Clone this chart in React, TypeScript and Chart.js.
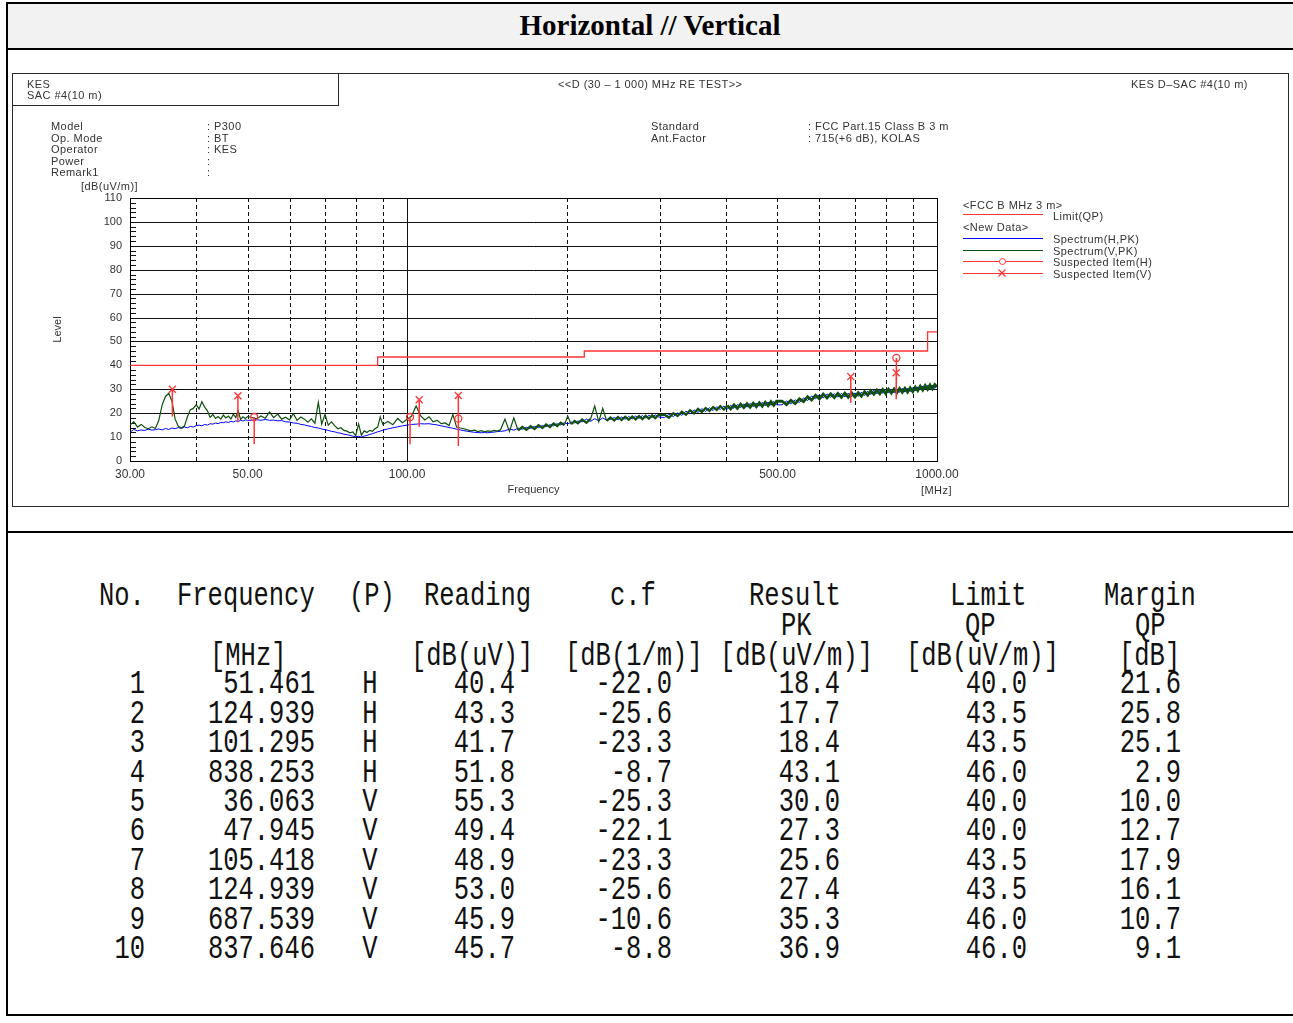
import React, { useEffect, useRef } from 'react';
import { Chart, registerables } from 'chart.js';

Chart.register(...registerables);

// ---------------- data ----------------
const freqMHz = [
  30, 30.5, 31, 31.5, 32, 32.5, 33, 33.5, 34, 34.5, 35, 35.5, 36, 36.5, 37, 37.5, 38, 38.5, 39, 39.5,
  40, 40.5, 41, 41.5, 42, 42.5, 43, 43.5, 44, 44.5, 45, 45.5, 46, 46.5, 47, 47.5, 48, 48.5, 49, 49.5, 50,
  51, 52, 53, 54, 55, 56, 57, 58, 59, 60, 61, 62, 63, 64, 65, 66, 67, 68, 69, 70,
  71, 72, 73, 74, 75, 76, 77, 78, 79, 80, 81, 82, 83, 84, 85, 86, 87, 88, 89, 90,
  92, 94, 96, 98, 100, 102, 104, 106, 108, 110, 112, 114, 116, 118, 120, 122, 124, 126, 128, 130,
  132, 134, 136, 138, 140, 142, 144, 146, 148, 150,
  153, 156, 159, 162, 165, 168, 171, 174, 177, 180, 183, 186, 189, 192, 195, 198, 201, 204, 207, 210,
  214, 218, 222, 226, 230, 234, 238, 242, 246, 250, 254, 258, 262, 266, 270, 274, 278, 282, 286, 290, 294, 298,
  306, 312, 318, 324, 330, 336, 342, 348, 354, 360, 366, 372, 378, 384, 390, 396, 402, 408, 414, 420,
  426, 432, 438, 444, 450, 456, 462, 468, 474, 480, 486, 492, 498,
  510, 520, 530, 540, 550, 560, 570, 580, 590, 600, 610, 620, 630, 640, 650, 660, 670, 680, 690, 700,
  710, 720, 730, 740, 750, 760, 770, 780, 790, 800, 810, 820, 830, 840, 850, 860, 870, 880, 890, 900,
  910, 920, 930, 940, 950, 960, 970, 980, 990, 1000,
];

const spectrumH = [
  12.0, 13.2, 12.6, 13.0, 12.8, 13.3, 12.9, 13.1, 13.4, 13.0, 13.6, 13.2, 13.8, 13.5, 14.0, 13.6, 14.2, 13.9, 14.5, 14.2,
  14.8, 15.0, 14.7, 15.3, 15.0, 15.6, 15.4, 15.9, 15.6, 16.1, 16.0, 16.4, 16.1, 16.6, 16.3, 16.8, 16.5, 17.0, 16.7, 17.2, 17.0,
  17.1, 17.3, 17.0, 17.4, 17.0, 17.1, 16.8, 16.9, 16.4, 16.3, 15.9, 15.8, 15.3, 15.1, 14.7, 14.4, 14.0, 13.8, 13.4, 13.1,
  12.8, 12.4, 12.2, 11.8, 11.6, 11.2, 11.0, 10.7, 10.4, 10.1, 10.3, 10.0, 10.4, 10.7, 11.1, 11.4, 11.8, 12.2, 12.5, 12.9,
  13.4, 13.9, 14.3, 14.7, 15.0, 15.3, 15.4, 15.6, 15.5, 15.6, 15.3, 15.1, 14.7, 14.4, 14.0, 13.7, 13.3, 13.0, 12.7, 12.4,
  12.2, 12.0, 11.9, 11.8, 11.9, 11.8, 12.0, 12.1, 12.3, 12.4,
  12.6, 13.4, 12.9, 13.7, 13.3, 14.1, 13.6, 14.5, 14.0, 14.8, 14.3, 15.2, 14.7, 15.6, 15.1, 16.0, 15.5, 16.3, 15.9, 16.7,
  16.4, 17.5, 16.6, 17.7, 16.8, 18.0, 17.1, 17.4, 18.2, 17.3, 18.4, 17.5, 18.6, 17.6, 18.8, 17.8, 19.0, 18.0, 19.1, 18.2, 19.3, 18.4,
  18.2, 19.5, 18.6, 20.1, 19.1, 20.8, 19.7, 21.4, 20.3, 21.9, 20.7, 22.3, 21.1, 22.7, 21.5, 23.0, 21.7, 23.3, 22.0, 23.6,
  22.3, 23.9, 22.5, 24.1, 22.7, 24.3, 22.9, 24.5, 23.1, 24.7, 23.3, 24.9, 23.5,
  23.5, 25.1, 23.9, 25.6, 24.5, 26.4, 25.3, 27.2, 26.0, 27.8, 26.4, 28.1, 26.6, 28.2, 26.7, 28.3, 26.8, 28.4, 26.9, 28.5,
  27.0, 28.8, 27.4, 29.2, 27.8, 29.6, 28.1, 29.8, 28.3, 29.9, 28.4, 30.1, 28.5, 30.2, 28.7, 30.4, 28.8, 30.5, 29.0, 30.7,
  29.3, 31.0, 29.7, 31.4, 30.0, 31.6, 30.2, 31.8, 30.4, 31.5,
];

const spectrumV = [
  15.0, 16.5, 14.2, 15.3, 14.0, 13.5, 14.3, 13.6, 17.0, 23.5, 27.0, 28.3, 25.0, 17.5, 14.5, 13.8, 14.6, 18.5, 21.5, 22.0,
  23.5, 21.8, 24.8, 22.5, 21.0, 18.2, 19.5, 17.8, 18.6, 17.5, 19.2, 18.0, 18.8, 17.6, 19.6, 18.2, 21.0, 17.4, 18.5, 17.8, 18.6,
  18.2, 17.6, 18.8, 17.9, 20.5, 18.1, 19.6, 17.5, 18.3, 17.2, 19.8, 17.0, 18.4, 17.5, 16.2, 17.6, 15.8, 24.5, 15.4, 19.5,
  15.0, 16.4, 14.8, 13.5, 13.9, 12.8, 12.5, 11.8, 12.2, 10.6, 15.5, 10.8, 12.6, 11.9, 12.8, 12.4, 13.5, 14.2, 18.5, 15.3,
  16.5, 15.2, 17.8, 16.0, 17.5, 18.8, 23.0, 19.0, 17.2, 18.5, 16.4, 17.0, 15.6, 15.9, 14.8, 19.5, 14.2, 13.8, 13.5, 13.0,
  12.6, 12.9, 12.3, 12.7, 12.2, 12.6, 12.4, 12.8, 12.5, 13.0,
  17.5, 12.4, 18.0, 12.8, 14.3, 13.0, 14.6, 13.4, 15.0, 13.8, 15.3, 14.2, 15.7, 14.6, 16.0, 15.0, 18.8, 15.4, 16.8, 15.8,
  17.4, 16.0, 17.6, 23.0, 16.4, 22.0, 16.8, 18.2, 16.9, 18.4, 17.1, 18.5, 17.2, 18.6, 17.4, 18.8, 17.5, 18.9, 17.7, 19.1, 17.9, 19.2,
  19.4, 18.1, 20.0, 18.8, 20.6, 19.3, 21.2, 19.9, 21.8, 20.5, 22.2, 20.9, 22.6, 21.3, 23.0, 21.5, 23.2, 21.8, 23.5, 22.0,
  23.8, 22.3, 24.0, 22.5, 24.2, 22.7, 24.4, 22.9, 24.6, 23.1, 24.8, 23.3, 25.0,
  25.0, 23.6, 25.4, 24.0, 26.0, 24.8, 26.9, 25.5, 27.5, 26.0, 28.0, 26.4, 28.1, 26.5, 28.3, 26.6, 28.4, 26.7, 28.5, 26.8,
  28.6, 27.1, 29.0, 27.5, 29.4, 27.9, 29.7, 28.1, 29.9, 28.2, 30.0, 28.4, 30.1, 28.5, 30.3, 28.7, 30.4, 28.8, 30.6, 29.0,
  30.9, 29.4, 31.3, 29.7, 31.6, 30.0, 31.8, 30.2, 32.0, 31.0,
];

const limitFreq = [30, 88, 88, 216, 216, 960, 960, 1000];
const limitLevel = [40, 40, 43.5, 43.5, 46, 46, 54, 54];

const yTickLevels = [0, 10, 20, 30, 40, 50, 60, 70, 80, 90, 100, 110];
const xGridFreqs = [40, 50, 60, 70, 80, 90, 100, 200, 300, 400, 500, 600, 700, 800, 900];
const xLabelFreqs = [30, 50, 100, 500, 1000];

// result table
const tableNo = [1, 2, 3, 4, 5, 6, 7, 8, 9, 10];
const tableFreq = [51.461, 124.939, 101.295, 838.253, 36.063, 47.945, 105.418, 124.939, 687.539, 837.646];
const tablePol = ['H', 'H', 'H', 'H', 'V', 'V', 'V', 'V', 'V', 'V'];
const tableReading = [40.4, 43.3, 41.7, 51.8, 55.3, 49.4, 48.9, 53.0, 45.9, 45.7];
const tableCf = [-22.0, -25.6, -23.3, -8.7, -25.3, -22.1, -23.3, -25.6, -10.6, -8.8];
const tableResult = [18.4, 17.7, 18.4, 43.1, 30.0, 27.3, 25.6, 27.4, 35.3, 36.9];
const tableLimit = [40.0, 43.5, 43.5, 46.0, 40.0, 40.0, 43.5, 43.5, 46.0, 46.0];
const tableMargin = [21.6, 25.8, 25.1, 2.9, 10.0, 12.7, 17.9, 16.1, 10.7, 9.1];
// lower end of each suspected-item marker stem (dB)
const stemBottom = [7.0, 6.3, 7.0, 32.0, 18.6, 16.2, 14.3, 16.3, 24.4, 25.8];

// ---------------- styling ----------------
const RED = '#ff3636';
const BLUE = '#0000ff';
const GREEN = '#0f4f0f';
const TXT = '#333';
const SANS = '"Liberation Sans", Arial, sans-serif';
const MONO = '"Liberation Mono", "DejaVu Sans Mono", monospace';
const SERIF = '"Liberation Serif", "Times New Roman", serif';

const gridPlugin = {
  id: 'emcGrid',
  beforeDatasetsDraw(chart: any) {
    const { ctx, chartArea: a, scales } = chart;
    const xs = scales.x;
    const ys = scales.y;
    ctx.save();
    ctx.strokeStyle = '#111';
    ctx.lineWidth = 1;
    for (const v of yTickLevels) {
      const py = Math.round(ys.getPixelForValue(v)) + 0.5;
      ctx.beginPath();
      ctx.moveTo(a.left, py);
      ctx.lineTo(a.right, py);
      ctx.stroke();
    }
    for (let v = 0; v <= 110; v += 2) {
      const py = Math.round(ys.getPixelForValue(v)) + 0.5;
      ctx.beginPath();
      ctx.moveTo(a.left, py);
      ctx.lineTo(a.left + 6, py);
      ctx.stroke();
    }
    for (const f of xGridFreqs) {
      const px = Math.round(xs.getPixelForValue(f)) + 0.5;
      ctx.setLineDash(f === 100 ? [] : [4, 3]);
      ctx.beginPath();
      ctx.moveTo(px, a.top);
      ctx.lineTo(px, a.bottom);
      ctx.stroke();
    }
    ctx.setLineDash([]);
    ctx.strokeStyle = '#000';
    ctx.strokeRect(Math.round(a.left) + 0.5, Math.round(a.top) + 0.5, Math.round(a.right - a.left), Math.round(a.bottom - a.top));
    ctx.restore();
  },
};

function EmcChart() {
  const ref = useRef<HTMLCanvasElement>(null);
  useEffect(() => {
    const canvas = ref.current;
    if (!canvas) return;
    const hData = freqMHz.map((f, i) => ({ x: f, y: spectrumH[i] }));
    const vData = freqMHz.map((f, i) => ({ x: f, y: spectrumV[i] }));
    const limData = limitFreq.map((f, i) => ({ x: f, y: limitLevel[i] }));
    const suspH: any[] = [];
    const suspV: any[] = [];
    const stems: any[] = [];
    tableFreq.forEach((f, i) => {
      const pt = { x: f, y: tableResult[i] };
      if (tablePol[i] === 'H') suspH.push(pt);
      else suspV.push(pt);
      stems.push({ x: f, y: tableResult[i] }, { x: f, y: stemBottom[i] }, { x: f, y: null });
    });
    const bandWidth = (c: any) => {
      const jump = Math.abs(c.p1.parsed.y - c.p0.parsed.y);
      if (c.p0.parsed.x < 150 || jump > 3) return 1.2;
      return c.p0.parsed.x < 400 ? 2.2 : 2.8;
    };
    const chart = new Chart(canvas, {
      type: 'line',
      data: {
        datasets: [
          {
            label: 'Suspected Item(H)', data: suspH, showLine: false, pointStyle: 'circle', pointRadius: 3.5,
            pointBorderColor: RED, pointBackgroundColor: 'rgba(0,0,0,0)', pointBorderWidth: 1.3, borderColor: RED, order: 0,
          },
          {
            label: 'Suspected Item(V)', data: suspV, showLine: false, pointStyle: 'crossRot', pointRadius: 5,
            pointBorderColor: RED, pointBackgroundColor: RED, pointBorderWidth: 1.3, borderColor: RED, order: 0,
          },
          { label: 'stems', data: stems, borderColor: RED, borderWidth: 1.5, pointRadius: 0, spanGaps: false, order: 1 },
          { label: 'Limit(QP)', data: limData, borderColor: RED, borderWidth: 1.3, pointRadius: 0, order: 2 },
          {
            label: 'Spectrum(V,PK)', data: vData, borderColor: GREEN, borderWidth: 1.2, pointRadius: 0, order: 3,
            segment: { borderWidth: bandWidth },
          },
          { label: 'Spectrum(H,PK)', data: hData, borderColor: BLUE, borderWidth: 1, pointRadius: 0, order: 4 },
        ] as any,
      },
      options: {
        animation: false,
        responsive: false,
        devicePixelRatio: 1,
        events: [],
        layout: { padding: { top: 124, right: 351, bottom: 0, left: 0 } },
        elements: { line: { tension: 0, fill: false } },
        plugins: { legend: { display: false }, tooltip: { enabled: false } },
        scales: {
          x: {
            type: 'logarithmic',
            min: 30,
            max: 1000,
            afterBuildTicks: (s: any) => { s.ticks = xLabelFreqs.map((v) => ({ value: v })); },
            afterFit: (s: any) => { s.height = 45; },
            grid: { display: false, drawTicks: false },
            border: { display: false },
            ticks: {
              autoSkip: false, maxRotation: 0, minRotation: 0, padding: 6.4, color: TXT,
              font: { size: 12, family: SANS },
              callback: (v: any) => Number(v).toFixed(2),
            },
            title: { display: true, text: 'Frequency', color: TXT, font: { size: 11, family: SANS }, padding: { top: 0, bottom: 9.4 } },
          },
          y: {
            type: 'linear',
            min: 0,
            max: 110,
            afterBuildTicks: (s: any) => { s.ticks = yTickLevels.map((v) => ({ value: v })); },
            afterFit: (s: any) => { s.width = 117; },
            grid: { display: false, drawTicks: false },
            border: { display: false },
            ticks: { padding: 8, color: TXT, font: { size: 11, family: SANS } },
            title: { display: true, text: 'Level', color: TXT, font: { size: 11, family: SANS }, padding: { top: 38.4, bottom: 0 } },
          },
        },
      } as any,
      plugins: [gridPlugin],
    });
    return () => chart.destroy();
  }, []);
  return (
    <canvas
      ref={ref}
      width={1275}
      height={432}
      style={{ position: 'absolute', left: 13, top: 74, width: 1275, height: 432 }}
    />
  );
}

function S({ x, cy, children }: { x: number; cy: number; children: React.ReactNode }) {
  return (
    <div
      style={{
        position: 'absolute', left: x, top: cy - 6, height: 12, lineHeight: '12px', fontSize: 11,
        fontFamily: SANS, color: TXT, whiteSpace: 'pre', letterSpacing: '0.45px',
      }}
    >
      {children}
    </div>
  );
}

function M({ x, cy, text, align }: { x: number; cy: number; text: string; align: 'left' | 'right' | 'center' }) {
  const boxW = 400;
  const left = align === 'left' ? x : align === 'right' ? x - boxW : x - boxW / 2;
  return (
    <div
      style={{
        position: 'absolute', left, top: cy - 18, width: boxW, height: 40, lineHeight: '40px',
        fontSize: 34, fontFamily: MONO, color: '#111', textAlign: align, whiteSpace: 'pre',
        transform: 'scaleX(0.75)', transformOrigin: align === 'left' ? 'left center' : align === 'right' ? 'right center' : 'center center',
      }}
    >
      {text}
    </div>
  );
}

function LegendLine({ y, color }: { y: number; color: string }) {
  return <div style={{ position: 'absolute', left: 963, top: y, width: 80, height: 1, background: color }} />;
}

export default function App() {
  const rowY = [682, 711.5, 741, 770.5, 800, 829, 858.5, 888, 917.5, 947];
  return (
    <div style={{ position: 'absolute', left: 0, top: 0, width: 1293, height: 1023, overflow: 'hidden', background: '#fff' }}>
      {/* outer frame */}
      <div style={{ position: 'absolute', left: 6, top: 2, width: 1292, height: 1014, border: '2px solid #000', boxSizing: 'border-box' }} />
      <div style={{ position: 'absolute', left: 8, top: 4, width: 1290, height: 43.5, background: '#f2f2f2' }} />
      <div style={{ position: 'absolute', left: 8, top: 47.5, width: 1290, height: 2, background: '#000' }} />
      <div style={{ position: 'absolute', left: 8, top: 531, width: 1290, height: 2, background: '#000' }} />
      <div
        style={{
          position: 'absolute', left: 8, top: 4, width: 1284, height: 43.5, lineHeight: '43.5px', textAlign: 'center',
          fontFamily: SERIF, fontWeight: 'bold', fontSize: 29, color: '#000',
        }}
      >
        Horizontal // Vertical
      </div>

      {/* chart image box */}
      <div style={{ position: 'absolute', left: 12, top: 73, width: 1277, height: 434, border: '1px solid #2a2a2a', boxSizing: 'border-box' }} />
      <div style={{ position: 'absolute', left: 12, top: 73, width: 327, height: 33, border: '1px solid #2a2a2a', boxSizing: 'border-box' }} />
      <EmcChart />

      <S x={27} cy={84}>KES</S>
      <S x={27} cy={95}>SAC #4(10 m)</S>
      <S x={558} cy={84}>{'<<D (30 – 1 000) MHz RE TEST>>'}</S>
      <S x={1131} cy={84}>KES D–SAC #4(10 m)</S>

      <S x={51} cy={126}>Model</S>
      <S x={51} cy={137.5}>Op. Mode</S>
      <S x={51} cy={149}>Operator</S>
      <S x={51} cy={160.5}>Power</S>
      <S x={51} cy={172}>Remark1</S>
      <S x={207} cy={126}>: P300</S>
      <S x={207} cy={137.5}>: BT</S>
      <S x={207} cy={149}>: KES</S>
      <S x={207} cy={160.5}>:</S>
      <S x={207} cy={172}>:</S>
      <S x={651} cy={126}>Standard</S>
      <S x={651} cy={137.5}>Ant.Factor</S>
      <S x={808} cy={126}>: FCC Part.15 Class B 3 m</S>
      <S x={808} cy={137.5}>: 715(+6 dB), KOLAS</S>

      <S x={81} cy={186}>[dB(uV/m)]</S>
      <S x={921} cy={490}>[MHz]</S>

      {/* legend */}
      <S x={963} cy={204.5}>{'<FCC B MHz 3 m>'}</S>
      <LegendLine y={214} color={RED} />
      <S x={1053} cy={215.5}>Limit(QP)</S>
      <S x={963} cy={226.5}>{'<New Data>'}</S>
      <LegendLine y={238} color={BLUE} />
      <S x={1053} cy={239}>Spectrum(H,PK)</S>
      <LegendLine y={250} color={GREEN} />
      <S x={1053} cy={250.5}>Spectrum(V,PK)</S>
      <LegendLine y={261} color={RED} />
      <div style={{ position: 'absolute', left: 998.5, top: 257.5, width: 7, height: 7, borderRadius: '50%', border: `1.2px solid ${RED}`, boxSizing: 'border-box', background: '#fff' }} />
      <S x={1053} cy={262}>Suspected Item(H)</S>
      <LegendLine y={273} color={RED} />
      <svg style={{ position: 'absolute', left: 997, top: 268 }} width={10} height={10}>
        <line x1={1.5} y1={1.5} x2={8.5} y2={8.5} stroke={RED} strokeWidth={1.3} />
        <line x1={8.5} y1={1.5} x2={1.5} y2={8.5} stroke={RED} strokeWidth={1.3} />
      </svg>
      <S x={1053} cy={273.5}>Suspected Item(V)</S>

      {/* result table */}
      <M x={99} cy={594} text="No." align="left" />
      <M x={177} cy={594} text="Frequency" align="left" />
      <M x={349} cy={594} text="(P)" align="left" />
      <M x={424} cy={594} text="Reading" align="left" />
      <M x={610} cy={594} text="c.f" align="left" />
      <M x={749} cy={594} text="Result" align="left" />
      <M x={950} cy={594} text="Limit" align="left" />
      <M x={1104} cy={594} text="Margin" align="left" />
      <M x={781} cy={624} text="PK" align="left" />
      <M x={965} cy={624} text="QP" align="left" />
      <M x={1135} cy={624} text="QP" align="left" />
      <M x={210} cy={654} text="[MHz]" align="left" />
      <M x={411} cy={654} text="[dB(uV)]" align="left" />
      <M x={565} cy={654} text="[dB(1/m)]" align="left" />
      <M x={720} cy={654} text="[dB(uV/m)]" align="left" />
      <M x={906} cy={654} text="[dB(uV/m)]" align="left" />
      <M x={1119} cy={654} text="[dB]" align="left" />
      {tableNo.map((n, i) => (
        <React.Fragment key={n}>
          <M x={145} cy={rowY[i]} text={String(n)} align="right" />
          <M x={315} cy={rowY[i]} text={tableFreq[i].toFixed(3)} align="right" />
          <M x={370} cy={rowY[i]} text={tablePol[i]} align="center" />
          <M x={515} cy={rowY[i]} text={tableReading[i].toFixed(1)} align="right" />
          <M x={672} cy={rowY[i]} text={tableCf[i].toFixed(1)} align="right" />
          <M x={840} cy={rowY[i]} text={tableResult[i].toFixed(1)} align="right" />
          <M x={1027} cy={rowY[i]} text={tableLimit[i].toFixed(1)} align="right" />
          <M x={1181} cy={rowY[i]} text={tableMargin[i].toFixed(1)} align="right" />
        </React.Fragment>
      ))}
    </div>
  );
}
